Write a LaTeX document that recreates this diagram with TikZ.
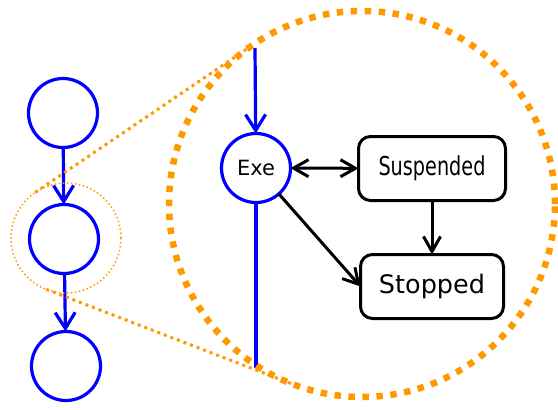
\documentclass[tikz,border=0pt]{standalone}
\usepackage{fontspec}
\setsansfont{DejaVu Sans}
\usepackage{graphicx}
\usepackage{tikz}
\usetikzlibrary{arrows.meta}
\definecolor{lensorange}{RGB}{255,153,0}
\tikzset{state/.style={circle, draw=blue, line width=3.2pt, minimum size=69pt, inner sep=0pt, outer sep=0pt},
phase/.style={draw=black, line width=3pt, rounded corners=12pt, inner sep=0pt, outer sep=0pt, font=\sffamily},
%blue steps of the program
flow/.style={draw=blue, line width=3.2pt, -{Straight Barb[length=16pt,width=20pt]}},
%black transitions inside the lens
move/.style={draw=black, line width=3pt, -{Straight Barb[length=15pt,width=17pt]}},
movepair/.style={draw=black, line width=3pt, {Straight Barb[length=15pt,width=17pt]}-{Straight Barb[length=15pt,width=17pt]}},
lens/.style={circle, draw=lensorange, inner sep=0pt, outer sep=0pt}}

\begin{document}
\begin{tikzpicture}[x=1pt,y=-1pt]
\useasboundingbox (0,0) rectangle (558,410);
% left chain
\node[state] (first) at (63,113) {};
\node[state] (second) at (64,239) {};
\node[state] (third) at (66,366) {};
\draw[flow] (first) -- (second);
\draw[flow] (second) -- (third);

% inside the lens
\coordinate (entry) at (255,48);
\coordinate (exit) at (256,368);
\node[state, font=\sffamily\fontsize{21}{24}\selectfont] (exe) at (256,168) {Exe};
\node[phase, minimum width=147pt, minimum height=64pt] (susp) at (432,168.5) {\fontsize{26}{28}\selectfont\scalebox{0.74}[1]{Suspended}};
\node[phase, minimum width=143pt, minimum height=64pt] (stop) at (432,286.5) {\fontsize{25.5}{28}\selectfont Stopped};
\draw[flow] (entry) -- (exe);
\draw[blue, line width=3.2pt] (exe) -- (exit);
\draw[movepair] (exe) -- (susp);
\draw[move] (susp) -- (stop);
\draw[move] (exe) -- (stop.west);

% zoom
\node[lens, line width=1.5pt, dash pattern=on 1.5pt off 2.5pt, minimum size=110pt] (focus) at (66,238) {};
\node[lens, line width=6.5pt, dash pattern=on 6.5pt off 7.5pt, minimum size=386pt] (big) at (362,204) {};
\draw[lensorange, line width=3pt, dash pattern=on 3pt off 4pt] (focus.124) -- (big.124);
\draw[lensorange, line width=3pt, dash pattern=on 3pt off 4pt] (focus.-111) -- (big.-111);
\end{tikzpicture}
\end{document}
